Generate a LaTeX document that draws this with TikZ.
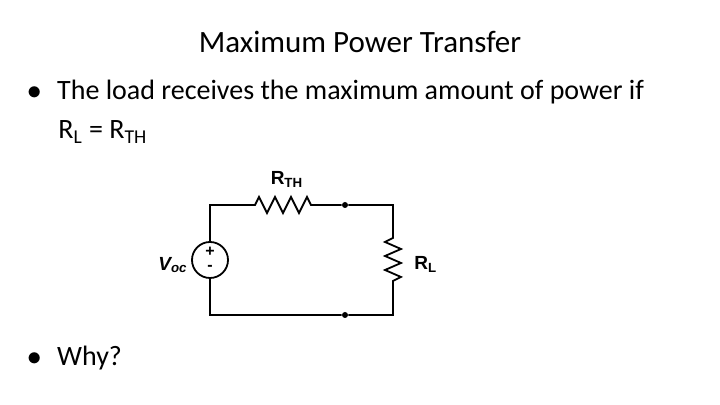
\documentclass[tikz,border=0pt]{standalone}
\usepackage{fontspec}
\setmainfont{Carlito}
\newfontfamily\arialf{Liberation Sans}
\begin{document}
\begin{tikzpicture}[x=0.5pt,y=-0.5pt,
  wire/.style={line width=0.9pt},
  dotn/.style={circle,fill=black,inner sep=0pt,minimum size=3pt},
  lbl/.style={font=\arialf\bfseries\fontsize{9.5}{11}\selectfont,inner sep=0pt},
  txt/.style={anchor=west,font=\fontsize{14}{16}\selectfont,inner sep=0pt}]
\useasboundingbox (0,0) rectangle (720,405);
\node[font=\fontsize{15.5}{18}\selectfont] (title) at (360,42) {Maximum Power Transfer};
\node[txt] (b1) at (27,92) {$\bullet$\hspace{0.55em}The load receives the maximum amount of power if};
\node[txt] (b1b) at (58,132) {R\textsubscript{L} = R\textsubscript{TH}};
\node[txt] (b2) at (27,358) {$\bullet$\hspace{0.55em}Why?};
% circuit
\coordinate (tl) at (210,205);
\coordinate (bl) at (210,315);
\coordinate (tr) at (393,205);
\coordinate (br) at (393,315);
\node[dotn] (dt) at (345,205) {};
\node[dotn] (db) at (345,315) {};
\node[circle,draw,line width=0.9pt,minimum size=18pt,inner sep=0pt] (src) at (210,260) {};
\node[font=\arialf\bfseries\fontsize{8}{8}\selectfont] at (210,252) {+};
\node[font=\arialf\bfseries\fontsize{8}{8}\selectfont] at (210,268) {-};
\draw[wire] (src.north) -- (tl) -- (255,205)
  -- (259,197) -- (267,213) -- (275,197) -- (283,213) -- (291,197) -- (299,213) -- (307,197) -- (311,205)
  -- (dt) -- (tr) -- (393,238)
  -- (385,242) -- (401,249) -- (385,256) -- (401,263) -- (385,270) -- (401,277) -- (393,281)
  -- (br) -- (db) -- (bl) -- (src.south);
\node[lbl] (rth) at (287,179) {R\textsubscript{TH}};
\node[lbl,anchor=west] (rl) at (414,264) {R\textsubscript{L}};
\node[lbl,anchor=east] (voc) at (188,265) {\itshape V\textsubscript{oc}};
\end{tikzpicture}
\end{document}
